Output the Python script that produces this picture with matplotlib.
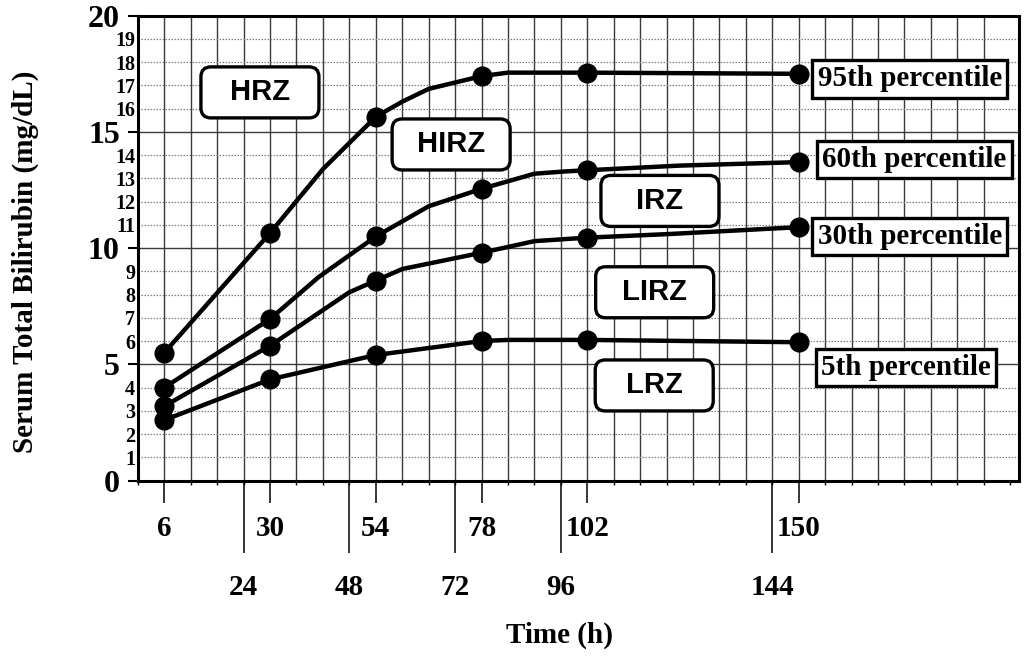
import matplotlib
matplotlib.use("Agg")
import matplotlib.pyplot as plt
from matplotlib.patches import FancyBboxPatch
from matplotlib.transforms import ScaledTranslation

# ── Daten ───────────────────────────────────────────────────────────────────
hours = [6, 30, 54, 78, 102, 150]
p95 = [5.5, 10.65, 15.65, 17.4, 17.55, 17.5]
p60 = [4.0, 6.95, 10.5, 12.55, 13.35, 13.7]
p30 = [3.2, 5.8, 8.6, 9.8, 10.45, 10.9]
p5 = [2.6, 4.35, 5.4, 6.0, 6.05, 5.95]

# Kurvenverlauf inkl. Knickstellen zwischen den Messpunkten
p95_cx = [6, 30, 42, 54, 60, 66, 78, 84, 102, 150]
p95_cy = [5.5, 10.65, 13.4, 15.65, 16.3, 16.85, 17.4, 17.55, 17.55, 17.5]
p60_cx = [6, 30, 41, 54, 66, 78, 90, 97, 102, 123, 150]
p60_cy = [4.0, 6.95, 8.75, 10.5, 11.8, 12.55, 13.2, 13.3, 13.35, 13.55, 13.7]
p30_cx = [6, 30, 48, 54, 60, 78, 90, 102, 120, 150]
p30_cy = [3.2, 5.8, 8.1, 8.6, 9.1, 9.8, 10.3, 10.45, 10.6, 10.9]
p5_cx = [6, 30, 54, 78, 84, 102, 126, 150]
p5_cy = [2.6, 4.35, 5.4, 6.0, 6.05, 6.05, 6.0, 5.95]

short_ticks = [6, 30, 54, 78, 102, 150]
long_ticks = [24, 48, 72, 96, 144]

zone_names = ["HRZ", "HIRZ", "IRZ", "LIRZ", "LRZ"]
zone_x = [27.7, 71.1, 118.5, 117.3, 117.2]
zone_y = [16.7, 14.46, 12.03, 8.1, 4.09]

pct_names = ["95th percentile", "60th percentile", "30th percentile", "5th percentile"]
pct_x = [175.2, 176.3, 175.2, 174.4]
pct_y = [17.28, 13.81, 10.5, 4.87]

plt.rcParams["font.family"] = "Liberation Serif"
plt.rcParams["font.weight"] = "bold"

fig = plt.figure(figsize=(10.24, 6.57), dpi=100)
ax = fig.add_axes([137.9 / 1024, 1 - 480.5 / 657, (1019 - 137.9) / 1024, (480.5 - 15.7) / 657])

# Gitter
ax.vlines(range(6, 193, 6), 0, 20, color="#3a3a3a", lw=1.0, zorder=0.5)
ax.hlines([5, 10, 15], 0, 200, color="#3a3a3a", lw=1.0, zorder=0.5)
minor_y = [i for i in range(1, 20) if i % 5]
ax.hlines(minor_y, 0, 200, color="#808080", lw=0.9, linestyles=(0, (1.2, 1.2)), zorder=0.5)

# Perzentilkurven
for cx, cy, py in [(p95_cx, p95_cy, p95), (p60_cx, p60_cy, p60),
                   (p30_cx, p30_cy, p30), (p5_cx, p5_cy, p5)]:
    ax.plot(cx, cy, color="black", lw=3.2, solid_capstyle="round", zorder=3)
    ax.plot(hours, py, "o", color="black", ms=13.5, zorder=4)

ax.set_xlim(0, 200)
ax.set_ylim(0, 20)

# Achsen / Ticks
for sp in ax.spines.values():
    sp.set_linewidth(2.2)

ax.set_yticks([0, 5, 10, 15, 20])
ax.set_yticks(minor_y, minor=True)
ax.set_yticklabels([str(v) for v in minor_y], minor=True)
ax.tick_params(axis="y", which="major", length=7, width=1.5, pad=6, labelsize=23)
ax.tick_params(axis="y", which="minor", length=0, pad=2, labelsize=14.5)

ax.set_xticks(short_ticks)
ax.set_xticks(range(0, 199, 6), minor=True)
ax.tick_params(axis="x", which="major", length=16, width=1.1, pad=9, labelsize=21)
ax.tick_params(axis="x", which="minor", length=3, width=1.0)

secax = ax.secondary_xaxis("bottom")
secax.set_xticks(long_ticks)
secax.spines["bottom"].set_visible(False)
secax.tick_params(axis="x", length=52, width=1.1, pad=15, labelsize=21)

# Zonen-Boxen (abgerundet, feste Größe in Zoll)
box_w, box_h = 1.18, 0.51
for name, x, y in zip(zone_names, zone_x, zone_y):
    tr = fig.dpi_scale_trans + ScaledTranslation(x, y, ax.transData)
    patch = FancyBboxPatch((-box_w / 2, -box_h / 2), box_w, box_h,
                           boxstyle="round,pad=0,rounding_size=0.1",
                           transform=tr, facecolor="white", edgecolor="black",
                           lw=2.4, zorder=5)
    ax.add_artist(patch)
    ax.text(x, y, name, ha="center", va="center", fontsize=21, fontweight="bold",
            family="Liberation Sans", zorder=6)

# Perzentil-Beschriftungen
for name, x, y in zip(pct_names, pct_x, pct_y):
    ax.text(x, y, name, ha="center", va="center", fontsize=21, fontweight="bold",
            zorder=6, bbox=dict(boxstyle="square,pad=0.18", facecolor="white",
                                edgecolor="black", lw=2.4))

fig.text(25 / 1024, 1 - 262 / 657, "Serum Total Bilirubin (mg/dL)", rotation=90,
         ha="center", va="center", fontsize=21, fontweight="bold")
fig.text(560 / 1024, 1 - 635 / 657, "Time (h)", ha="center", va="center",
         fontsize=21, fontweight="bold")

fig.savefig("out.png", dpi=100, facecolor="white")
